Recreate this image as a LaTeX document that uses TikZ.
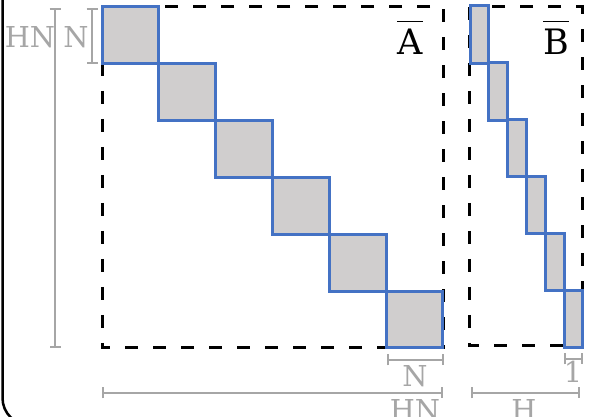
\documentclass[tikz,border=0pt]{standalone}
\usepackage{fontspec}
\setmainfont{DejaVu Serif}
\usetikzlibrary{arrows.meta}
\definecolor{blkblue}{RGB}{68,114,196}
\definecolor{blkfill}{RGB}{208,206,206}
\definecolor{dimgray}{RGB}{166,166,166}
\tikzset{
  frame/.style={draw=black, line width=1.5pt, dash pattern=on 6.5pt off 7.5pt},
  blk/.style={draw=blkblue, fill=blkfill, line width=1.5pt},
  dimline/.style={draw=dimgray, line width=1pt, {Bar[width=5.5pt]}-{Bar[width=5.5pt]}},
  dimlabel/.style={text=dimgray, font=\fontsize{14.4}{15}\selectfont, inner sep=0pt, anchor=base},
  matlabel/.style={font=\fontsize{17.5}{18}\selectfont, inner sep=0pt, anchor=base}
}

\begin{document}
\begin{tikzpicture}[x=0.5pt, y=-0.5pt]
  \useasboundingbox (0,0) rectangle (596,417);
  \clip (0,0) rectangle (596,417);
  % outer frame
  \draw[line width=1.25pt, rounded corners=13.5pt] (2.5,-60) rectangle (700,425);

  % dashed matrices
  \coordinate (Atl) at (102,7);
  \coordinate (Abr) at (443,348);
  \coordinate (Btl) at (469,7);
  \coordinate (Bbr) at (582,346);
  \draw[frame] (Atl) rectangle (Abr);
  \draw[frame] (Btl) rectangle (Bbr);

  % diagonal blocks
  \foreach \i in {0,...,5} {
    \draw[blk] (102+56.83*\i, 7+56.83*\i) rectangle +(56.83,56.83);
    \draw[blk] (470+18.8*\i, 6+56.83*\i) rectangle +(18.8,57.2);
  }

  \node[matlabel] (Alab) at (410,55) {$\overline{\rule{0pt}{15.5pt}\hbox{A}}$};
  \node[matlabel] (Blab) at (556,55) {$\overline{\rule{0pt}{15.5pt}\hbox{B}}$};

  % dimensions
  \coordinate (hnT) at (55,8);
  \coordinate (hnB) at (55,348);
  \coordinate (nT) at (92,8);
  \coordinate (nB) at (92,64);
  \coordinate (nL) at (387,360);
  \coordinate (nR) at (444,360);
  \coordinate (hnL) at (102,393);
  \coordinate (hnR) at (443,393);
  \coordinate (oneL) at (564,359);
  \coordinate (oneR) at (583,359);
  \coordinate (hL) at (471,393);
  \coordinate (hR) at (580,393);
  \draw[dimline] (hnT) -- (hnB);
  \draw[dimline] (nT) -- (nB);
  \draw[dimline] (nL) -- (nR);
  \draw[dimline] (hnL) -- (hnR);
  \draw[dimline] (oneL) -- (oneR);
  \draw[dimline] (hL) -- (hR);

  \node[dimlabel] (hnlabL) at (30,48) {HN};
  \node[dimlabel] (nlabL) at (76,48) {N};
  \node[dimlabel] (nlabB) at (415,387) {N};
  \node[dimlabel] (hnlabB) at (415,421) {HN};
  \node[dimlabel] (onelab) at (573,383) {1};
  \node[dimlabel] (hlab) at (524,421) {H};
\end{tikzpicture}
\end{document}
